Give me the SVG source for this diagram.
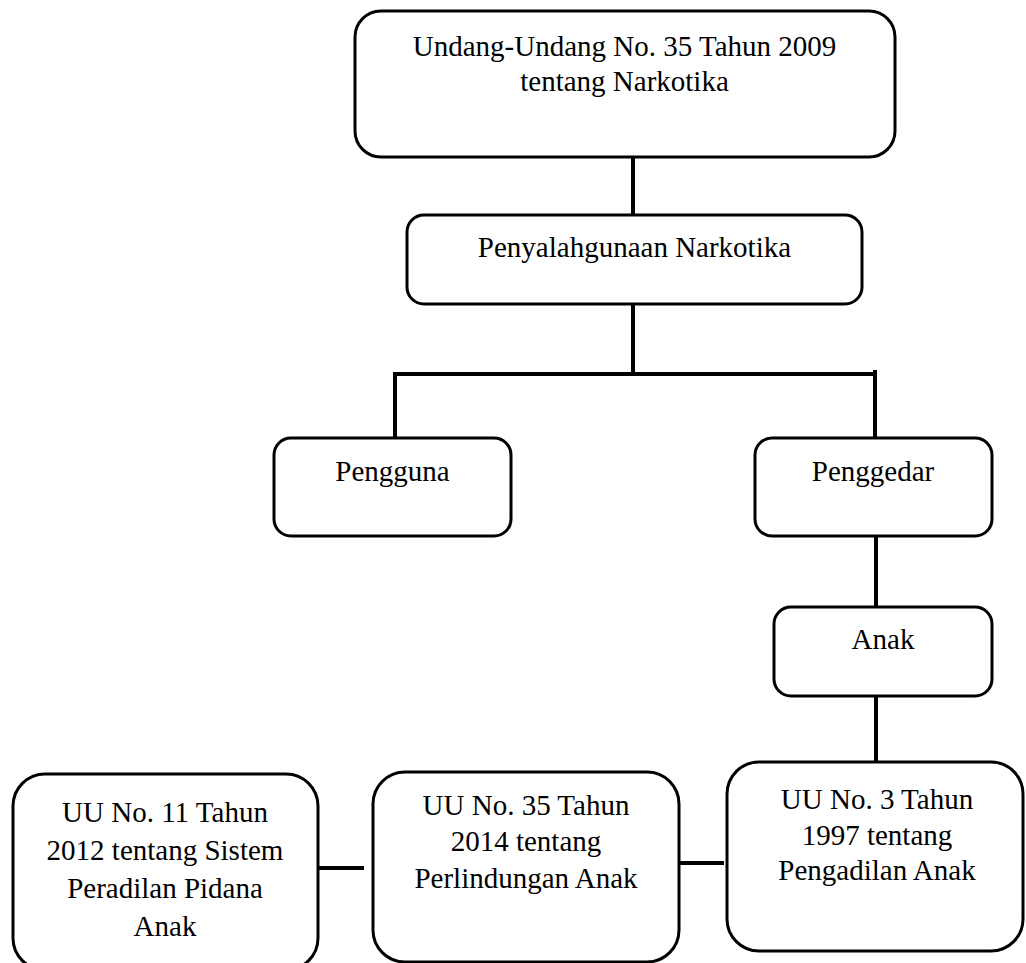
<svg xmlns="http://www.w3.org/2000/svg" width="1026" height="963" viewBox="0 0 1026 963">
<style>
.box{fill:#fff;stroke:#000;stroke-width:3}
.t{font-family:"Liberation Serif","Times New Roman",serif;font-size:29px;fill:#000;text-anchor:middle}
.c{stroke:#000;stroke-width:4;fill:none}
</style>
<rect width="1026" height="963" fill="#fff"/>
<g id="connectors">
<line class="c" x1="633" y1="157" x2="633" y2="215"/>
<line class="c" x1="633" y1="304" x2="633" y2="374"/>
<line class="c" x1="393" y1="374" x2="877" y2="374"/>
<line class="c" x1="395" y1="374" x2="395" y2="438"/>
<line class="c" x1="875" y1="370" x2="875" y2="438"/>
<line class="c" x1="876" y1="536" x2="876" y2="607"/>
<line class="c" x1="876" y1="696" x2="876" y2="762"/>
<line class="c" x1="680" y1="863" x2="724" y2="863"/>
<line class="c" x1="319" y1="868" x2="364" y2="868"/>
</g>
<g id="n1">
<rect class="box" x="355" y="11" width="540" height="146" rx="26"/>
<text class="t" x="624.5" y="56">Undang-Undang No. 35 Tahun 2009</text>
<text class="t" x="624.5" y="91">tentang Narkotika</text>
</g>
<g id="n2">
<rect class="box" x="407" y="215" width="455" height="89" rx="17"/>
<text class="t" x="634.5" y="257">Penyalahgunaan Narkotika</text>
</g>
<g id="n3">
<rect class="box" x="274" y="438" width="237" height="98" rx="17"/>
<text class="t" x="392.5" y="481">Pengguna</text>
</g>
<g id="n4">
<rect class="box" x="755" y="438" width="237" height="98" rx="17"/>
<text class="t" x="873" y="481">Penggedar</text>
</g>
<g id="n5">
<rect class="box" x="774" y="607" width="218" height="89" rx="17"/>
<text class="t" x="883" y="649">Anak</text>
</g>
<g id="n6">
<rect class="box" x="727" y="762" width="296" height="189" rx="32"/>
<text class="t" x="877" y="809">UU No. 3 Tahun</text>
<text class="t" x="877" y="845">1997 tentang</text>
<text class="t" x="877" y="880">Pengadilan Anak</text>
</g>
<g id="n7">
<rect class="box" x="373" y="772" width="306" height="190" rx="32"/>
<text class="t" x="526" y="815">UU No. 35 Tahun</text>
<text class="t" x="526" y="851">2014 tentang </text>
<text class="t" x="526" y="888">Perlindungan Anak</text>
</g>
<g id="n8">
<rect class="box" x="13" y="774" width="305" height="196" rx="32"/>
<text class="t" x="165" y="822">UU No. 11 Tahun</text>
<text class="t" x="165" y="860">2012 tentang Sistem</text>
<text class="t" x="165" y="898">Peradilan Pidana</text>
<text class="t" x="165" y="936">Anak</text>
</g>
</svg>
